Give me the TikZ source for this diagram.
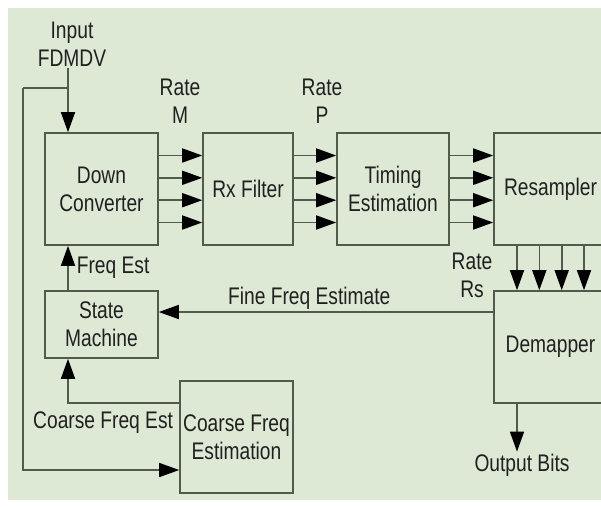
\documentclass[tikz,border=0pt]{standalone}
\usepackage{fontspec}
\setmainfont{Liberation Sans}[FakeStretch=0.8]
\usetikzlibrary{arrows.meta}
\definecolor{bgc}{HTML}{DDE8D5}
\definecolor{linec}{HTML}{4F5B4C}
\definecolor{txtc}{HTML}{202020}

\begin{document}
\begin{tikzpicture}[x=1pt, y=-1pt,
    blk/.style={draw=linec, fill=bgc, line width=1.6pt, inner sep=0pt, align=center, text=txtc},
    flow/.style={draw=linec, line width=1.6pt, -{Triangle[length=20pt, width=14pt, color=black]}},
    lbl/.style={text=txtc, align=center, inner sep=2pt},
    font=\fontsize{24}{28}\selectfont]

    \useasboundingbox (0,0) rectangle (601,506);
    \clip (0,0) rectangle (601,506);
    \fill[white] (0,0) rectangle (601,506);
    \fill[bgc] (8,8) rectangle (601,500);

    \node[blk, minimum width=113pt, minimum height=112pt] (dc) at (101.5,189) {Down\\Converter};
    \node[blk, minimum width=90pt, minimum height=112pt] (rx) at (248,189) {Rx Filter};
    \node[blk, minimum width=112pt, minimum height=112pt] (te) at (393,189) {Timing\\Estimation};
    \node[blk, minimum width=113pt, minimum height=112pt] (rs) at (550.5,189) {Resampler};
    \node[blk, minimum width=113pt, minimum height=67pt] (sm) at (101.5,324.5) {State\\Machine};
    \node[blk, minimum width=113pt, minimum height=112pt] (dm) at (550.5,347) {Demapper};
    \node[blk, minimum width=113pt, minimum height=112pt] (cfe) at (236.5,437) {Coarse Freq\\Estimation};

    \node[lbl] (in) at (72,44) {Input\\FDMDV};
    \node[lbl] (rm) at (180,101) {Rate\\M};
    \node[lbl] (rp) at (322,101) {Rate\\P};
    \node[lbl] (rr) at (472,275) {Rate\\Rs};
    \node[lbl] (ob) at (522,465) {Output Bits};
    \coordinate (tap) at (68,88);
    \coordinate (fbk) at (23,88);

    \draw[flow] ([xshift=-4pt]in.south) -- ([xshift=-33.5pt]dc.north);
    \draw[draw=linec, line width=1.6pt] (tap) -- (fbk);
    \draw[flow] (fbk) |- ([yshift=-33pt]cfe.west);

    \foreach \dy in {-33.5,-11.2,11.2,33.5} {
        \draw[flow] ([yshift=\dy pt]dc.east) -- ([yshift=\dy pt]rx.west);
        \draw[flow] ([yshift=\dy pt]rx.east) -- ([yshift=\dy pt]te.west);
        \draw[flow] ([yshift=\dy pt]te.east) -- ([yshift=\dy pt]rs.west);
    }
    \foreach \dx in {-33.5,-11.2,11.2,33.5}
        \draw[flow] ([xshift=\dx pt]rs.south) -- ([xshift=\dx pt]dm.north);

    \draw[flow] ([xshift=-33.5pt]sm.north) -- ([xshift=-33.5pt]dc.south) node[lbl, midway, right, xshift=6pt] (fe) {Freq Est};
    \draw[flow] ([yshift=35pt]dm.west) -- ([yshift=35pt]dm.west -| sm.east) node[lbl, pos=0.55, above] (ffe) {Fine Freq Estimate};
    \draw[flow] ([yshift=34pt]cfe.west) -| ([xshift=-33.5pt]sm.south);
    \node[lbl, anchor=north east, inner xsep=6pt, inner ysep=9pt] (cfl) at ([yshift=34pt]cfe.west) {Coarse Freq Est};
    \draw[flow] ([xshift=-33.5pt]dm.south) -- ([xshift=-33.5pt]dm.south |- ob.north);

\end{tikzpicture}
\end{document}
